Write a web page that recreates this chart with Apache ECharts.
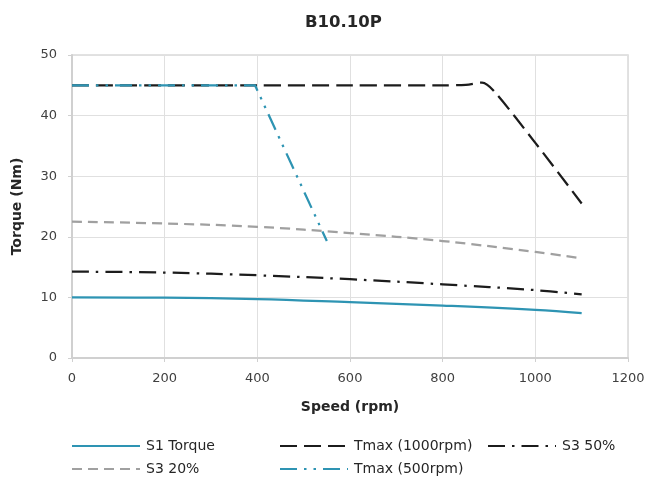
<!DOCTYPE html>
<html>
<head>
<meta charset="utf-8">
<script src="https://cdn.jsdelivr.net/npm/echarts@6/dist/echarts.min.js"></script>
<style>html,body{margin:0;padding:0;background:#fff}#c{width:648px;height:480px}</style>
</head>
<body>
<div id="c"></div>
<script>
const titleText = 'B10.10P';
const xTicks = [0, 200, 400, 600, 800, 1000, 1200];
const yTicks = [0, 10, 20, 30, 40, 50];

const s1Speed = [0, 200, 400, 600, 800, 1000, 1100];
const s1Torque = [10.0, 9.95, 9.7, 9.2, 8.65, 7.95, 7.4];

const tmax1000Speed = [0, 200, 400, 600, 800, 850, 885, 910, 1000, 1100];
const tmax1000Torque = [45, 45, 45, 45, 45, 45.05, 45.45, 44.1, 35.5, 25.5];

const s3_50Speed = [0, 200, 400, 600, 800, 1000, 1100];
const s3_50Torque = [14.25, 14.1, 13.65, 13.0, 12.15, 11.2, 10.5];

const s3_20Speed = [0, 200, 400, 600, 800, 1000, 1100];
const s3_20Torque = [22.5, 22.2, 21.65, 20.6, 19.3, 17.5, 16.45];

const tmax500Speed = [0, 100, 200, 300, 395, 550];
const tmax500Torque = [45, 45, 45, 45, 45, 19.3];

const names = ['S1 Torque', 'Tmax (1000rpm)', 'S3 50%', 'S3 20%', 'Tmax (500rpm)'];

function pairs(xs, ys) { return xs.map((x, i) => [x, ys[i]]); }

const teal = '#2E94B3';
const black = '#1c1c1c';
const gray = '#a0a0a0';
const w = 2.25;
const FONT = 'DejaVu Sans';

const chart = echarts.init(document.getElementById('c'), null, {renderer: 'canvas'});

function legend(name, left, top) {
  return {
    data: [name], left: left, top: top, itemWidth: 68, itemHeight: 14,
    textStyle: {fontFamily: FONT, fontSize: 14, color: '#262626', padding: [0, 0, 0, 1]},
    itemStyle: {opacity: 0},
    itemGap: 0, padding: 0, selectedMode: false
  };
}

chart.setOption({
  animation: false,
  backgroundColor: '#fff',
  title: {
    text: titleText, left: 300, top: 9,
    textStyle: {fontFamily: FONT, fontSize: 16.5, fontWeight: 'bold', color: '#262626'}
  },
  legend: [
    legend(names[0], 71, 439),
    legend(names[1], 279, 439),
    legend(names[2], 487, 439),
    legend(names[3], 71, 462),
    legend(names[4], 279, 462)
  ],
  grid: {left: 72, right: 20, top: 55, bottom: 122, show: true, borderColor: '#d9d9d9', borderWidth: 1.5, backgroundColor: 'transparent'},
  xAxis: {
    type: 'value', min: xTicks[0], max: xTicks[xTicks.length - 1], interval: 200,
    name: 'Speed (rpm)', nameLocation: 'middle', nameGap: 42,
    nameTextStyle: {fontFamily: FONT, fontSize: 14, fontWeight: 'bold', color: '#262626'},
    axisLine: {show: true, lineStyle: {color: '#d0d0d0', width: 2}},
    axisTick: {show: true, length: 4, lineStyle: {color: '#d0d0d0', width: 1}},
    axisLabel: {fontFamily: FONT, fontSize: 13, color: '#404040', margin: 14, formatter: v => String(v)},
    splitLine: {show: true, lineStyle: {color: '#e0e0e0', width: 1}}
  },
  yAxis: {
    type: 'value', min: yTicks[0], max: yTicks[yTicks.length - 1], interval: 10,
    name: 'Torque (Nm)', nameLocation: 'middle', nameGap: 48,
    nameTextStyle: {fontFamily: FONT, fontSize: 14, fontWeight: 'bold', color: '#262626'},
    axisLine: {show: true, lineStyle: {color: '#d0d0d0', width: 2}},
    axisTick: {show: true, length: 4, lineStyle: {color: '#d0d0d0', width: 1}},
    axisLabel: {fontFamily: FONT, fontSize: 13, color: '#404040', margin: 15, formatter: v => String(v)},
    splitLine: {show: true, lineStyle: {color: '#e0e0e0', width: 1}}
  },
  series: [
    {name: names[0], type: 'line', data: pairs(s1Speed, s1Torque), smooth: 0.4, showSymbol: false, symbol: 'none',
      lineStyle: {color: teal, width: w, type: 'solid'}, itemStyle: {color: teal}},
    {name: names[1], type: 'line', data: pairs(tmax1000Speed, tmax1000Torque), smooth: 0.3, showSymbol: false, symbol: 'none',
      lineStyle: {color: black, width: w, type: [17, 7]}, itemStyle: {color: black}},
    {name: names[2], type: 'line', data: pairs(s3_50Speed, s3_50Torque), smooth: 0.4, showSymbol: false, symbol: 'none',
      lineStyle: {color: black, width: w, type: [17, 7, 2.5, 7]}, itemStyle: {color: black}},
    {name: names[3], type: 'line', data: pairs(s3_20Speed, s3_20Torque), smooth: 0.4, showSymbol: false, symbol: 'none',
      lineStyle: {color: gray, width: w, type: [10, 6]}, itemStyle: {color: gray}},
    {name: names[4], type: 'line', data: pairs(tmax500Speed, tmax500Torque), smooth: false, showSymbol: false, symbol: 'none',
      lineStyle: {color: teal, width: w, type: [17, 7, 2.5, 7, 2.5, 7]}, itemStyle: {color: teal}}
  ]
});
</script>
</body>
</html>
